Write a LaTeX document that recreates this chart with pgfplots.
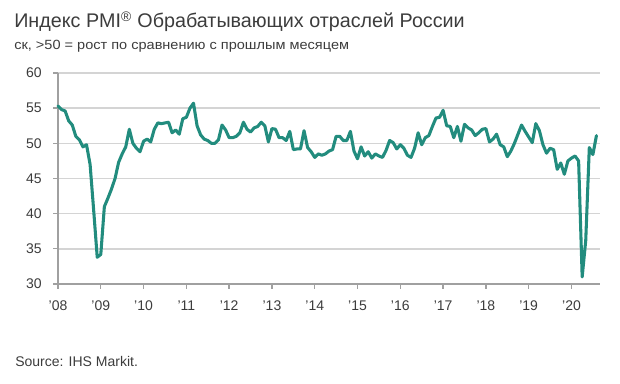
\documentclass[border=0pt]{standalone}
\usepackage{fontspec}
\setmainfont{Liberation Sans}
\usepackage{pgfplots}
\usepackage{pgfplotstable}
\pgfplotsset{compat=1.18}
\definecolor{pmiteal}{RGB}{34,140,126}
\definecolor{txtgray}{RGB}{60,60,60}
\definecolor{gridgray}{RGB}{212,212,212}
\definecolor{axgray}{RGB}{160,160,160}
% Russia manufacturing PMI, monthly, Jan 2008 - Aug 2020
\pgfplotstableread{
v
55.3
54.8
54.6
53.2
52.6
51.0
50.5
49.5
49.8
47.0
40.5
33.8
34.2
41.0
42.2
43.5
45.0
47.3
48.5
49.5
52.0
50.0
49.3
48.8
50.3
50.6
50.2
52.0
52.9
52.8
52.9
53.0
51.5
51.9
51.3
53.5
53.7
55.0
55.7
52.5
51.2
50.6
50.4
50.0
50.0
50.5
52.6
51.9
50.8
50.8
51.0
51.5
53.0
52.0
51.6
52.2
52.4
53.0
52.5
50.2
52.1
52.0
50.8
50.8
50.4
51.7
49.1
49.2
49.2
51.8
49.4
48.8
48.0
48.5
48.3
48.5
48.9
49.1
51.0
51.0
50.4
50.4
51.7
48.9
47.8
49.5
48.2
48.8
47.9
48.5
48.2
48.0
49.0
50.4
50.1
49.2
49.8
49.3
48.3
48.0
49.3
51.5
49.8
50.8
51.1
52.4
53.6
53.7
54.7
52.5
52.4
50.8
52.4
50.3
52.7
52.2
51.9
51.1
51.5
52.0
52.1
50.2
50.6
51.3
49.8
49.5
48.1
48.9
50.0
51.3
52.6
51.7
50.9
50.1
52.8
51.8
49.8
48.6
49.3
49.1
46.3
47.2
45.6
47.5
47.9
48.2
47.5
31.0
36.2
49.4
48.4
51.1
}\pmidata
\begin{document}
\begin{tikzpicture}
\path[use as bounding box] (0,0) rectangle (465pt,288pt);
\begin{axis}[
  at={(43.5pt,75pt)}, anchor=south west,
  scale only axis, width=406.5pt, height=158.25pt,
  xmin=0, xmax=152, ymin=30, ymax=60,
  axis x line=bottom, axis y line=left,
  axis line style={axgray, line width=1.1pt, -},
  xtick={0,12,...,144},
  xticklabels={'08,'09,'10,'11,'12,'13,'14,'15,'16,'17,'18,'19,'20},
  ytick={30,35,...,60},
  ymajorgrids, grid style={gridgray, line width=1.1pt},
  tick align=outside, major tick length=3.75pt,
  tick style={axgray, line width=1pt},
  ticklabel style={font=\fontsize{10.5}{12}\selectfont, text=txtgray},
  xticklabel style={yshift=-5pt},
  yticklabel style={xshift=-5pt},
  /pgf/number format/assume math mode=true,
  clip=false,
]
\addplot[pmiteal, line width=2.3pt, line join=round, line cap=round] table[x expr=\coordindex, y=v]{\pmidata};
\end{axis}
\node[anchor=base west, inner sep=0pt, font=\fontsize{14.8}{17}\selectfont, text=txtgray] at (10.5pt,267pt) {Индекс PMI\textsuperscript{®} Обрабатывающих отраслей России};
\node[anchor=base west, inner sep=0pt, font=\fontsize{10}{12}\selectfont, text=txtgray, xscale=1.09] at (10.5pt,250.5pt) {ск, >50 = рост по сравнению с прошлым месяцем};
\node[anchor=base west, inner sep=0pt, font=\fontsize{10.5}{12}\selectfont, text=txtgray] at (11.25pt,12.75pt) {Source: IHS Markit.};
\end{tikzpicture}
\end{document}
